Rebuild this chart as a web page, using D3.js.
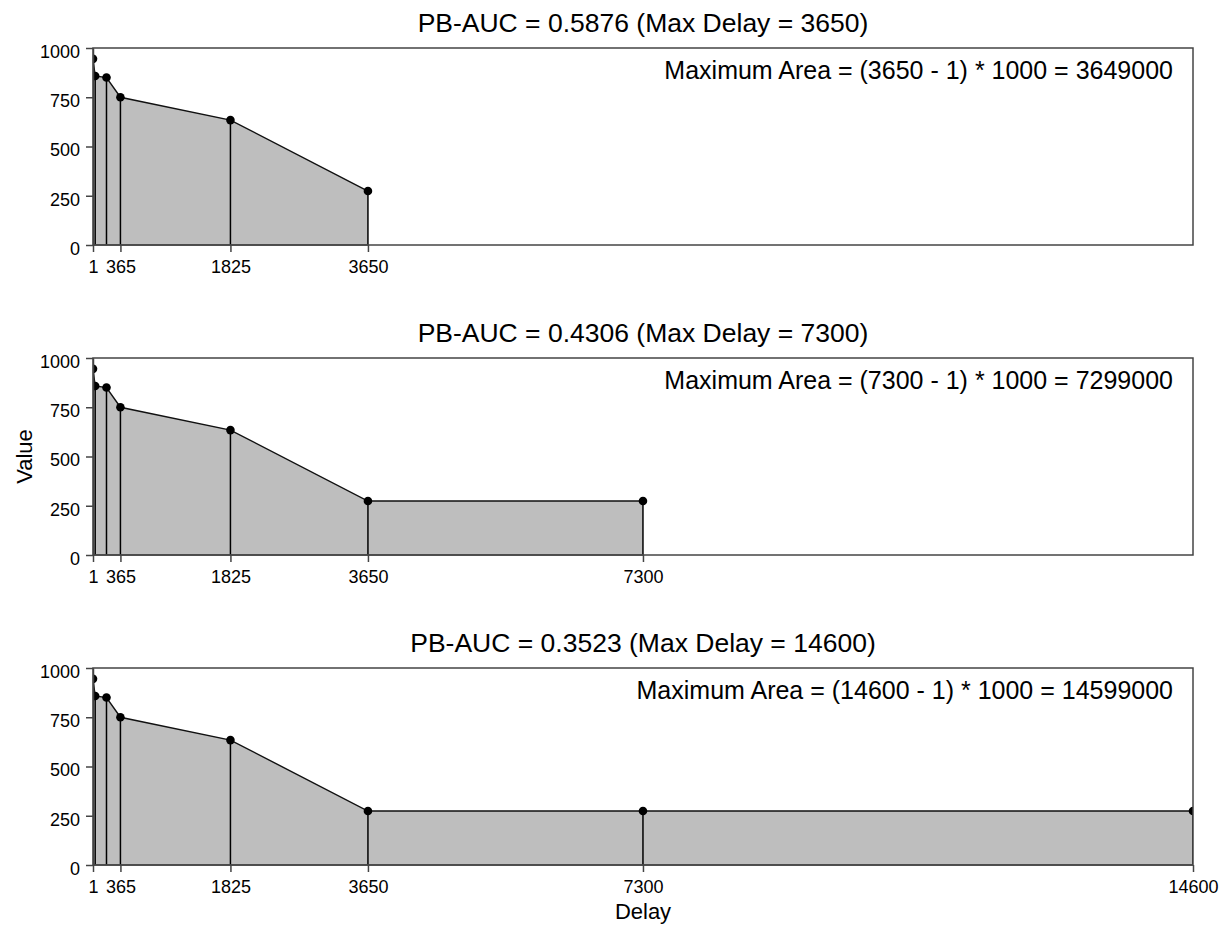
<!DOCTYPE html>
<html>
<head>
<meta charset="utf-8">
<script src="https://cdn.jsdelivr.net/npm/d3@7"></script>
<style>
    body { margin: 0; background: white; }
    svg text { font-family: "Liberation Sans", Arial, sans-serif; fill: black; }
</style>
</head>
<body>
<svg id="chart" width="1228" height="928"></svg>
<script>
// data
const delays = [1, 30, 180, 365, 1825, 3650, 7300, 14600]
const values = [945, 858, 850, 750, 634, 274, 274, 274]
const maxDelays = [3650, 7300, 14600]
const pbAucs = [0.5876, 0.4306, 0.3523]
const maxValue = 1000
const xTickValues = [1, 365, 1825, 3650, 7300, 14600]
const yTickValues = [0, 250, 500, 750, 1000]

const svg = d3.select("#chart")
const LEFT = 93
const RIGHT = 1193
const TOP = 48
const PANEL_H = 197
const GAP = 310
const FILL = "#bebebe"

let xs = d3.scaleLinear()
    .domain([1, 14600])
    .range([LEFT, RIGHT])

function drawPanel(idx) {
    let maxDelay = maxDelays[idx]
    let top = TOP + idx * GAP
    let bottom = top + PANEL_H
    let ys = d3.scaleLinear()
        .domain([0, maxValue])
        .range([bottom, top])

    let pts = delays.map((d, i) => ({ x: d, y: values[i] }))
        .filter(p => p.x <= maxDelay)

    // clip to the plot box
    svg.append("clipPath")
        .attr("id", "clip" + idx)
        .append("rect")
        .attr("x", LEFT)
        .attr("y", top)
        .attr("width", RIGHT - LEFT)
        .attr("height", PANEL_H)

    let g = svg.append("g")
        .attr("clip-path", `url(#clip${idx})`)

    let area = d3.area()
        .x(d => xs(d.x))
        .y0(ys(0))
        .y1(d => ys(d.y))
    g.append("path")
        .datum(pts)
        .attr("d", area)
        .style("fill", FILL)

    let line = d3.line()
        .x(d => xs(d.x))
        .y(d => ys(d.y))
    g.append("path")
        .datum(pts)
        .attr("d", line)
        .style("fill", "none")
        .style("stroke", "#111")
        .style("stroke-width", 1.4)

    // stems
    g.selectAll()
        .data(pts)
        .enter()
        .append("line")
        .attr("x1", d => xs(d.x))
        .attr("x2", d => xs(d.x))
        .attr("y1", ys(0))
        .attr("y2", d => ys(d.y))
        .style("stroke", "black")
        .style("stroke-width", 1.5)

    g.selectAll()
        .data(pts)
        .enter()
        .append("circle")
        .attr("cx", d => xs(d.x))
        .attr("cy", d => ys(d.y))
        .attr("r", 4.3)
        .style("fill", "black")

    // box
    svg.append("rect")
        .attr("x", LEFT)
        .attr("y", top)
        .attr("width", RIGHT - LEFT)
        .attr("height", PANEL_H)
        .style("fill", "none")
        .style("stroke", "#444")
        .style("stroke-width", 1.5)

    // axes
    let yAxis = svg.append("g")
        .attr("transform", `translate(${LEFT},0)`)
        .call(d3.axisLeft(ys).tickValues(yTickValues).tickFormat(d3.format("d")).tickSize(7).tickPadding(6).tickSizeOuter(0))
    yAxis.selectAll("text")
        .attr("dy", "0.85em")
        .attr("y", -6)
        .style("font-size", "18px")
    yAxis.selectAll("line, path").style("stroke", "#444").style("stroke-width", 1.5)

    let ticks = xTickValues.filter(t => t <= maxDelay)
    let xAxis = svg.append("g")
        .attr("transform", `translate(0,${bottom})`)
        .call(d3.axisBottom(xs).tickValues(ticks).tickFormat(d3.format("d")).tickSize(7).tickPadding(8).tickSizeOuter(0))
    xAxis.select("path")
        .attr("d", `M${xs(ticks[0])},0H${xs(ticks[ticks.length - 1])}`)
    xAxis.selectAll("text").style("font-size", "18px")
    xAxis.selectAll("line, path").style("stroke", "#444").style("stroke-width", 1.5)

    svg.append("text")
        .text(`PB-AUC = ${pbAucs[idx].toFixed(4)} (Max Delay = ${maxDelay})`)
        .attr("x", (LEFT + RIGHT) / 2)
        .attr("y", top - 16)
        .style("font-size", "26.5px")
        .style("text-anchor", "middle")

    svg.append("text")
        .text(`Maximum Area = (${maxDelay} - 1) * ${maxValue} = ${(maxDelay - 1) * maxValue}`)
        .attr("x", RIGHT - 20)
        .attr("y", top + 31)
        .style("font-size", "25px")
        .style("text-anchor", "end")
}

maxDelays.forEach((_, i) => drawPanel(i))

svg.append("text")
    .text("Value")
    .attr("transform", `translate(32,${TOP + GAP + PANEL_H / 2}) rotate(-90)`)
    .style("font-size", "22px")
    .style("text-anchor", "middle")

svg.append("text")
    .text("Delay")
    .attr("x", (LEFT + RIGHT) / 2)
    .attr("y", 919)
    .style("font-size", "22px")
    .style("text-anchor", "middle")
</script>
</body>
</html>
